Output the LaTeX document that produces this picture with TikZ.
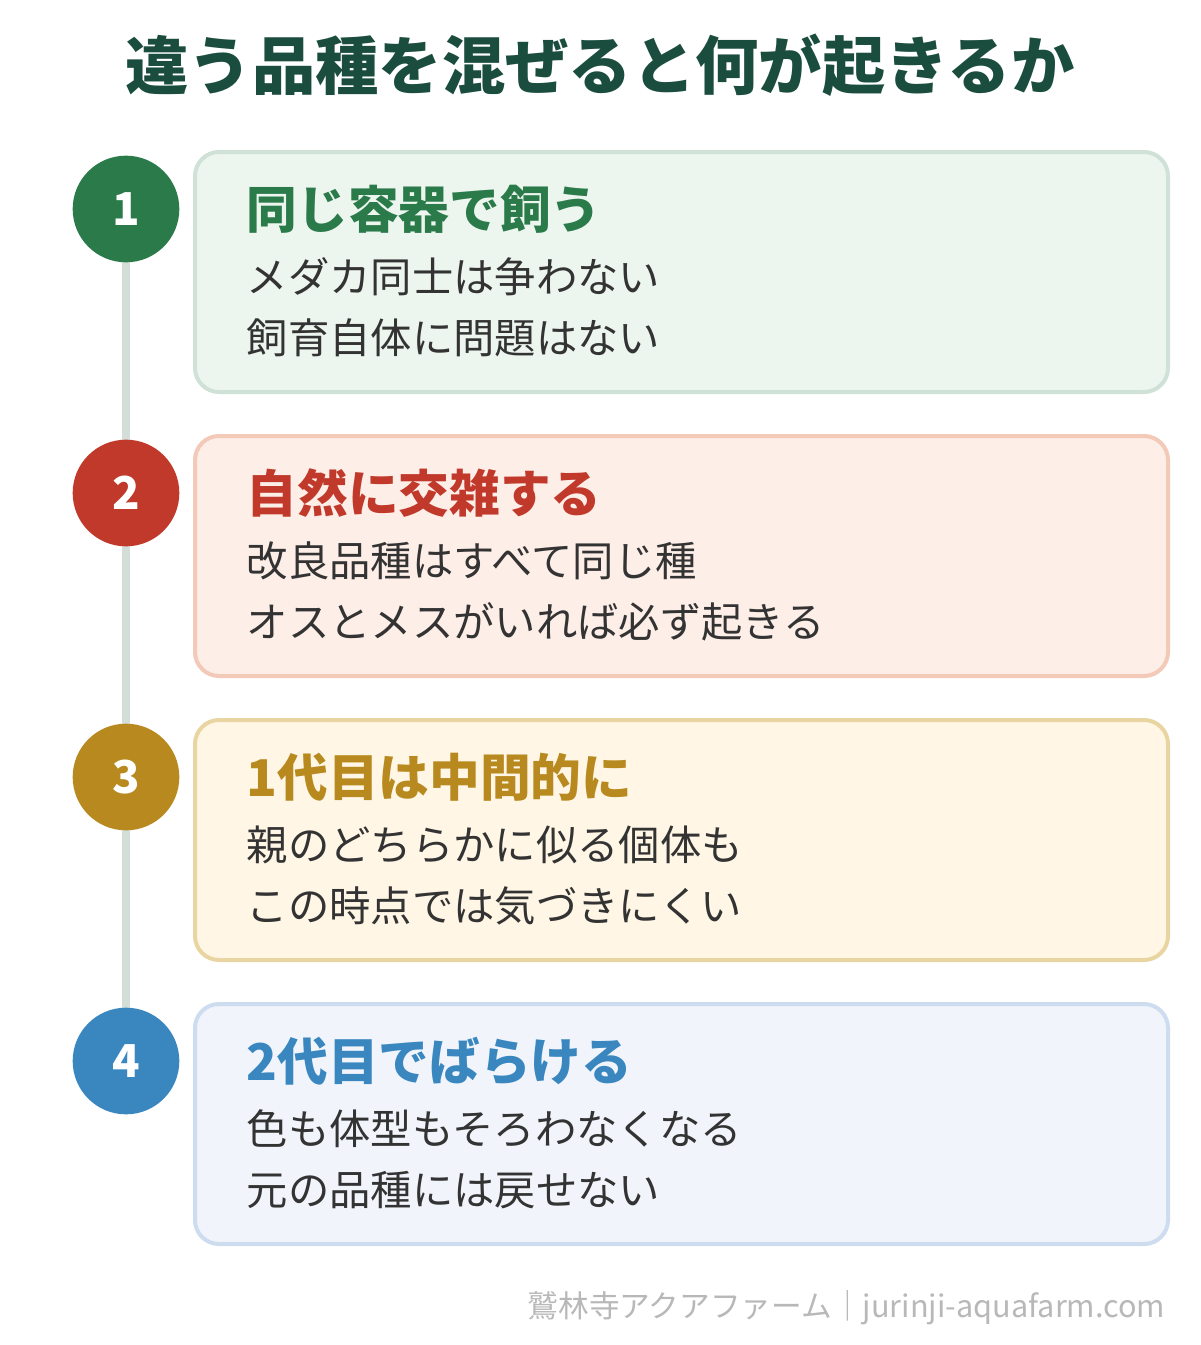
\documentclass[tikz,border=0pt]{standalone}
\usepackage{fontspec}
\setmainfont{Noto Sans CJK JP}
\usetikzlibrary{positioning}
\definecolor{titlegreen}{HTML}{1B4D3E}
\definecolor{bodytext}{HTML}{333333}
\definecolor{railgray}{HTML}{D3DED9}
\definecolor{footgray}{HTML}{B8B8B8}
\definecolor{cA}{HTML}{2A7A4A}\definecolor{fA}{HTML}{EDF5EF}\definecolor{bA}{HTML}{D0E1D7}
\definecolor{cB}{HTML}{C0392B}\definecolor{fB}{HTML}{FDEEE8}\definecolor{bB}{HTML}{F3C9B8}
\definecolor{cC}{HTML}{B8891E}\definecolor{fC}{HTML}{FFF6E5}\definecolor{bC}{HTML}{E9D5A2}
\definecolor{cD}{HTML}{3A87C0}\definecolor{fD}{HTML}{F1F5FB}\definecolor{bD}{HTML}{CEDCEF}
\tikzset{
  stepbox/.style={draw=#1, line width=3pt, rounded corners=18pt},
  stepnum/.style={circle, fill=#1, minimum size=80pt, inner sep=0pt, text=white,
    font=\fontsize{34}{34}\selectfont\bfseries},
  heading/.style={anchor=west, text=#1, font=\fontsize{38}{38}\selectfont\bfseries},
  bodyline/.style={anchor=west, text=bodytext, font=\fontsize{31}{31}\selectfont},
}
\begin{document}
\begin{tikzpicture}[x=0.75pt, y=-0.75pt]
  \useasboundingbox (0,0) rectangle (1200,1345);
  \node[text=titlegreen, font=\fontsize{47.5}{48}\selectfont\bfseries] (title) at (600,65) {違う品種を混ぜると何が起きるか};
  \foreach \k/\n/\y/\c/\f/\b/\head/\la/\lb in {
    1/1/152/cA/fA/bA/同じ容器で飼う/メダカ同士は争わない/飼育自体に問題はない,
    2/2/436/cB/fB/bB/自然に交雑する/改良品種はすべて同じ種/オスとメスがいれば必ず起きる,
    3/3/720/cC/fC/bC/1代目は中間的に/親のどちらかに似る個体も/この時点では気づきにくい,
    4/4/1004/cD/fD/bD/2代目でばらける/色も体型もそろわなくなる/元の品種には戻せない}{
    \draw[stepbox=\b, fill=\f] (195,\y) rectangle (1168,\y+240);
    \node[heading=\c] (head\k) at (242,\y+57) {\head};
    \node[bodyline] (la\k) at (242,\y+125) {\la};
    \node[bodyline] (lb\k) at (242,\y+186) {\lb};
  }
  \draw[railgray, line width=6pt] (126,209) -- (126,1061);
  \node[stepnum=cA] (num1) at (126,209) {1};
  \node[stepnum=cB] (num2) at (126,493) {2};
  \node[stepnum=cC] (num3) at (126,777) {3};
  \node[stepnum=cD] (num4) at (126,1061) {4};
  \node[anchor=east, text=footgray, font=\fontsize{23}{23}\selectfont] (foot) at (1170,1308) {鷲林寺アクアファーム｜jurinji-aquafarm.com};
\end{tikzpicture}
\end{document}
